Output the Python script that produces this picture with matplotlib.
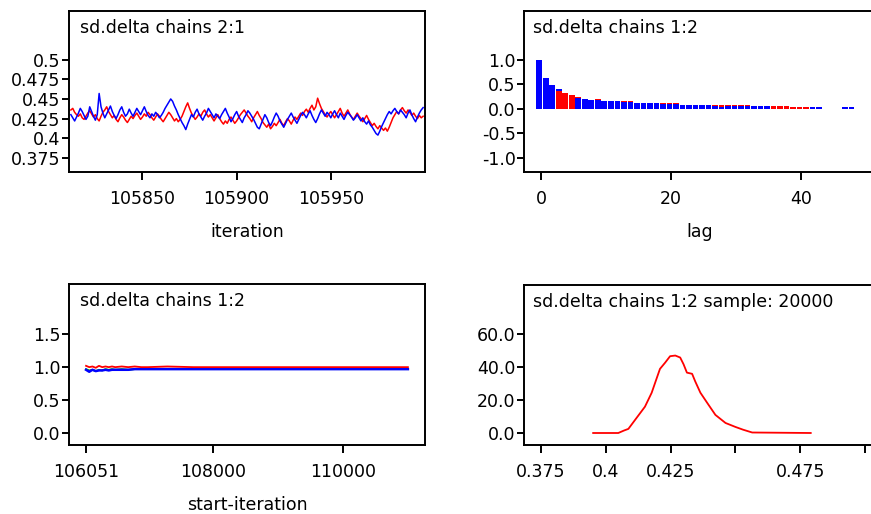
import matplotlib
matplotlib.use("Agg")
import matplotlib.pyplot as plt
import numpy as np

plt.rcParams['font.family'] = 'DejaVu Sans'
plt.rcParams['font.size'] = 12.5
plt.rcParams['axes.unicode_minus'] = False

# trace, iterations 105812..105999
trace_iter = np.arange(105812, 106000)
trace_red = [0.436, 0.438, 0.433, 0.430, 0.428, 0.431, 0.426, 0.424, 0.428, 0.432,
             0.435, 0.431, 0.427, 0.430, 0.425, 0.422, 0.428, 0.433, 0.436, 0.440,
             0.434, 0.430, 0.426, 0.429, 0.424, 0.421, 0.426, 0.430, 0.427, 0.423,
             0.420, 0.424, 0.428, 0.425, 0.429, 0.432, 0.428, 0.424, 0.427, 0.431,
             0.428, 0.433, 0.430, 0.426, 0.423, 0.427, 0.431, 0.428, 0.424, 0.421,
             0.425, 0.429, 0.433, 0.430, 0.426, 0.422, 0.425, 0.421, 0.424, 0.428,
             0.434, 0.440, 0.445, 0.438, 0.432, 0.428, 0.424, 0.427, 0.431, 0.428,
             0.433, 0.436, 0.431, 0.427, 0.430, 0.426, 0.422, 0.426, 0.430, 0.425,
             0.421, 0.418, 0.422, 0.419, 0.424, 0.427, 0.423, 0.419, 0.422, 0.426,
             0.430, 0.433, 0.436, 0.432, 0.428, 0.425, 0.421, 0.426, 0.430, 0.434,
             0.429, 0.425, 0.420, 0.417, 0.414, 0.418, 0.412, 0.415, 0.419, 0.416,
             0.420, 0.424, 0.419, 0.416, 0.421, 0.425, 0.422, 0.418, 0.423, 0.427,
             0.424, 0.428, 0.432, 0.429, 0.434, 0.437, 0.433, 0.438, 0.442, 0.436,
             0.440, 0.451, 0.444, 0.438, 0.434, 0.430, 0.427, 0.431, 0.434, 0.430,
             0.426, 0.430, 0.434, 0.438, 0.432, 0.428, 0.432, 0.436, 0.431, 0.427,
             0.424, 0.428, 0.432, 0.428, 0.425, 0.421, 0.425, 0.429, 0.424, 0.420,
             0.416, 0.419, 0.415, 0.412, 0.416, 0.413, 0.410, 0.413, 0.409, 0.414,
             0.420, 0.426, 0.430, 0.434, 0.431, 0.436, 0.439, 0.435, 0.432, 0.436,
             0.433, 0.429, 0.432, 0.428, 0.425, 0.429, 0.426, 0.428]
trace_blue = [0.430, 0.426, 0.422, 0.427, 0.432, 0.438, 0.434, 0.429, 0.424, 0.428,
              0.440, 0.434, 0.428, 0.423, 0.430, 0.457, 0.440, 0.432, 0.426, 0.431,
              0.436, 0.441, 0.434, 0.429, 0.425, 0.430, 0.436, 0.440, 0.433, 0.428,
              0.431, 0.437, 0.432, 0.428, 0.433, 0.438, 0.434, 0.430, 0.435, 0.440,
              0.434, 0.429, 0.426, 0.431, 0.428, 0.433, 0.430, 0.426, 0.429, 0.433,
              0.438, 0.442, 0.446, 0.450, 0.447, 0.441, 0.436, 0.430, 0.425, 0.420,
              0.416, 0.411, 0.418, 0.424, 0.430, 0.427, 0.433, 0.437, 0.431, 0.427,
              0.423, 0.428, 0.432, 0.438, 0.434, 0.430, 0.426, 0.431, 0.428, 0.425,
              0.430, 0.434, 0.438, 0.432, 0.427, 0.421, 0.425, 0.430, 0.434, 0.428,
              0.424, 0.420, 0.426, 0.430, 0.435, 0.432, 0.428, 0.424, 0.419, 0.414,
              0.412, 0.418, 0.424, 0.430, 0.426, 0.420, 0.416, 0.421, 0.427, 0.432,
              0.428, 0.422, 0.418, 0.414, 0.419, 0.424, 0.428, 0.432, 0.427, 0.423,
              0.419, 0.424, 0.429, 0.433, 0.430, 0.426, 0.431, 0.435, 0.429, 0.424,
              0.420, 0.425, 0.431, 0.436, 0.432, 0.428, 0.433, 0.430, 0.426, 0.431,
              0.435, 0.430, 0.426, 0.432, 0.428, 0.424, 0.429, 0.433, 0.430, 0.427,
              0.423, 0.426, 0.430, 0.426, 0.422, 0.426, 0.421, 0.418, 0.422, 0.417,
              0.414, 0.410, 0.406, 0.404, 0.409, 0.415, 0.420, 0.425, 0.430, 0.434,
              0.431, 0.435, 0.438, 0.434, 0.431, 0.436, 0.433, 0.430, 0.426, 0.432,
              0.436, 0.430, 0.425, 0.421, 0.427, 0.432, 0.436, 0.439]

# autocorrelation, lags 0..50
acf_lags = np.arange(0, 51)
acf_blue = [1.00, 0.64, 0.49, 0.40, 0.31, 0.28, 0.23, 0.21, 0.19, 0.18,
            0.17, 0.16, 0.16, 0.15, 0.14, 0.13, 0.12, 0.12, 0.11, 0.10,
            0.10, 0.09, 0.08, 0.07, 0.07, 0.07, 0.07, 0.05, 0.04, 0.06,
            0.06, 0.06, 0.06, 0.06, 0.06, 0.06, 0.03, 0.03, 0.02, 0.02,
            0.02, 0.01, 0.04, 0.04, 0.00, 0.00, 0.00, 0.04, 0.04, 0.00, 0.00]
acf_red = [1.00, 0.61, 0.46, 0.37, 0.33, 0.29, 0.25, 0.21, 0.17, 0.20,
           0.16, 0.15, 0.15, 0.17, 0.17, 0.12, 0.11, 0.10, 0.12, 0.12,
           0.12, 0.11, 0.07, 0.06, 0.06, 0.05, 0.05, 0.07, 0.07, 0.07,
           0.07, 0.07, 0.07, 0.05, 0.05, 0.04, 0.05, 0.05, 0.05, 0.04,
           0.04, 0.04, 0.03, 0.02, 0.00, 0.00, 0.00, 0.00, 0.00, 0.00, 0.00]
red_front = [3, 4, 5, 36, 37, 38, 39, 40, 41]

# Brooks-Gelman-Rubin
bgr_iter = [106051, 106100, 106150, 106200, 106250, 106300, 106350, 106400, 106450,
            106500, 106600, 106700, 106800, 106900, 107000, 107300, 107700, 108000,
            108500, 109000, 109500, 110000, 110500, 111000]
bgr_red = [1.02, 1.00, 1.01, 0.99, 1.02, 1.00, 1.01, 1.00, 1.01, 1.00, 1.01, 1.00,
           1.01, 1.00, 1.00, 1.01, 1.00, 1.00, 1.00, 1.00, 1.00, 1.00, 1.00, 1.00]
bgr_green = [0.97, 0.95, 0.96, 0.94, 0.96, 0.95, 0.97, 0.96, 0.97, 0.96, 0.97, 0.96,
             0.97, 0.97, 0.97, 0.97, 0.97, 0.97, 0.97, 0.97, 0.97, 0.97, 0.97, 0.97]
bgr_blue = [0.96, 0.93, 0.96, 0.94, 0.95, 0.95, 0.96, 0.95, 0.96, 0.96, 0.96, 0.96,
            0.97, 0.97, 0.97, 0.97, 0.97, 0.97, 0.97, 0.97, 0.97, 0.97, 0.97, 0.97]

# kernel density
dens_x = [0.3951, 0.4048, 0.4070, 0.4087, 0.4113, 0.4151, 0.4177, 0.4197, 0.4209,
          0.4229, 0.4248, 0.4268, 0.4287, 0.4300, 0.4313, 0.4333, 0.4345, 0.4365,
          0.4391, 0.4423, 0.4462, 0.4500, 0.4530, 0.4565, 0.4791]
dens_y = [0.0, 0.0, 1.5, 2.5, 8.0, 16.0, 24.5, 33.6, 39.0, 42.8, 46.7, 47.1, 45.9,
          41.8, 36.7, 36.0, 31.4, 24.5, 18.4, 11.0, 6.1, 3.7, 2.0, 0.3, 0.0]

W, H = 871, 514
fig = plt.figure(figsize=(W / 100, H / 100), dpi=100)


def make_ax(x0, y0, x1, y1):
    ax = fig.add_axes([x0 / W, 1 - y1 / H, (x1 - x0) / W, (y1 - y0) / H])
    for s in ax.spines.values():
        s.set_linewidth(1.4)
    ax.tick_params(direction='out', width=1.4, length=5, pad=1)
    ax.tick_params(axis='x', length=6, pad=7)
    return ax


RED, BLUE, GREEN = '#ff0000', '#0000ff', '#00b000'

# top left: trace
ax1 = make_ax(69, 11, 425, 172)
ax1.plot(trace_iter, trace_red, color=RED, lw=1.1)
ax1.plot(trace_iter, trace_blue, color=BLUE, lw=1.1)
ax1.set_xlim(105811, 106000)
ax1.set_ylim(0.357, 0.562)
ax1.set_xticks([105850, 105900, 105950])
ax1.set_yticks([0.375, 0.4, 0.425, 0.45, 0.475, 0.5])
ax1.set_yticklabels(['0.375', '0.4', '0.425', '0.45', '0.475', '0.5'])
ax1.set_xlabel('iteration', labelpad=11)
ax1.text(0.031, 0.95, 'sd.delta chains 2:1', transform=ax1.transAxes, va='top')

# top right: autocorrelation (blue drawn over red unless red is in front)
ax2 = make_ax(524, 11, 876, 172)
for i, lag in enumerate(acf_lags):
    order = [(acf_red[i], RED), (acf_blue[i], BLUE)]
    if lag in red_front:
        order = order[::-1]
    for v, c in order:
        if v > 0:
            ax2.bar(lag - 0.25, v, width=0.88, color=c, linewidth=0)
ax2.set_xlim(-2.6, 51.5)
ax2.set_ylim(-1.29, 2.0)
ax2.set_xticks([0, 20, 40])
ax2.set_yticks([-1.0, -0.5, 0.0, 0.5, 1.0])
ax2.set_yticklabels(['-1.0', '-0.5', '0.0', '0.5', '1.0'])
ax2.set_xlabel('lag', labelpad=11)
ax2.text(0.026, 0.95, 'sd.delta chains 1:2', transform=ax2.transAxes, va='top')

# bottom left: BGR
ax3 = make_ax(69, 284, 425, 445)
ax3.plot(bgr_iter, bgr_green, color=GREEN, lw=1.3)
ax3.plot(bgr_iter, bgr_blue, color=BLUE, lw=1.8)
ax3.plot(bgr_iter, bgr_red, color=RED, lw=1.3)
ax3.set_xlim(105789, 111263)
ax3.set_ylim(-0.18, 2.26)
ax3.set_xticks([106051, 108000, 110000])
ax3.set_xticklabels(['106051', '108000', '110000'])
ax3.set_yticks([0.0, 0.5, 1.0, 1.5])
ax3.set_yticklabels(['0.0', '0.5', '1.0', '1.5'])
ax3.set_xlabel('start-iteration', labelpad=10.5)
ax3.text(0.031, 0.95, 'sd.delta chains 1:2', transform=ax3.transAxes, va='top')

# bottom right: density
ax4 = make_ax(524, 285, 876, 445)
ax4.plot(dens_x, dens_y, color=RED, lw=1.3)
ax4.set_xlim(0.3684, 0.5043)
ax4.set_ylim(-7.3, 90)
ax4.set_xticks([0.375, 0.4, 0.425, 0.45, 0.475, 0.5])
ax4.set_xticklabels(['0.375', '0.4', '0.425', '', '0.475', ''])
ax4.set_yticks([0, 20, 40, 60])
ax4.set_yticklabels(['0.0', '20.0', '40.0', '60.0'])
ax4.text(0.026, 0.95, 'sd.delta chains 1:2 sample: 20000', transform=ax4.transAxes, va='top')

fig.savefig('out.png', dpi=100)
